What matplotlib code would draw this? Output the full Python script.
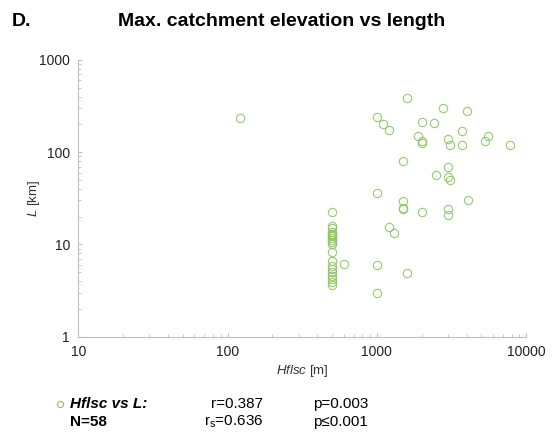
import numpy as np
import matplotlib
matplotlib.use("Agg")
import matplotlib.pyplot as plt
from matplotlib.ticker import LogLocator, FuncFormatter

plt.rcParams['font.family'] = ['Liberation Sans', 'DejaVu Sans']
plt.rcParams['mathtext.fontset'] = 'custom'
plt.rcParams['mathtext.rm'] = 'Liberation Sans'
plt.rcParams['mathtext.it'] = 'Liberation Sans:italic'

# Hflsc [m] vs L [km]
hflsc = [500] * 20 + [
    121, 600, 1000, 1000, 1200, 1300, 1600, 1500, 1500, 1500,
    2000, 1600, 1000, 1100, 1200, 2800, 4000, 2000, 2400, 3700,
    1900, 2000, 2000, 3000, 3100, 3700, 5600, 5300, 7800, 1500,
    3000, 2500, 3000, 3100, 1000, 4100, 3000, 3000]
length = [22.6, 16.0, 15.2, 13.8, 13.0, 12.6, 12.3, 11.8, 11.2, 10.6,
          10.0, 8.3, 6.7, 5.8, 5.4, 5.0, 4.6, 4.2, 3.9, 3.6] + [
    234, 6.1, 6.0, 2.95, 15.6, 13.2, 4.9, 29.5, 25, 24,
    22.6, 388, 238, 200, 174, 303, 281, 213, 208, 171,
    151, 132, 126, 139, 119, 119, 151, 131, 120, 80,
    69.5, 57, 54, 49.5, 36, 30.5, 24.4, 20.8]

green = '#8cc463'
grey = '#bfbfbf'

fig = plt.figure(figsize=(5.52, 4.34), dpi=100)
ax = fig.add_axes([0.1418, 0.2242, 0.8111, 0.6376])

ax.plot(hflsc, length, 'o', mfc='none', mec=green, ms=6, mew=0.8, alpha=0.9)

ax.set_xscale('log')
ax.set_yscale('log')
ax.set_xlim(10, 10000)
ax.set_ylim(1, 1000)

fmt = FuncFormatter(lambda v, p: '%g' % v)
for axis in (ax.xaxis, ax.yaxis):
    axis.set_major_locator(LogLocator(base=10))
    axis.set_minor_locator(LogLocator(base=10, subs=np.arange(2, 10)))
    axis.set_major_formatter(fmt)
    axis.set_minor_formatter(FuncFormatter(lambda v, p: ''))

ax.tick_params(which='both', direction='in', color=grey, labelsize=10, labelcolor='#222222')
ax.tick_params(which='major', length=3, width=0.8, pad=6)
ax.tick_params(which='minor', length=2, width=0.6)
ax.spines['top'].set_visible(False)
ax.spines['right'].set_visible(False)
ax.spines['left'].set_color(grey)
ax.spines['bottom'].set_color(grey)

ax.set_xlabel(r'$\it{Hflsc}$ [m]', fontsize=9.5, color='#333333', labelpad=3)
ax.set_ylabel(r'$\it{L}$ [km]', fontsize=9.5, color='#333333', labelpad=-2)

fig.text(12 / 552, 1 - 21 / 434, 'D.', fontsize=14, fontweight='bold', va='center')
fig.text(282 / 552, 1 - 21 / 434, 'Max. catchment elevation vs length',
         fontsize=14, fontweight='bold', ha='center', va='center')

# legend block
y1 = 1 - 404 / 434
y2 = 1 - 422 / 434
fig.lines.append(plt.Line2D([60 / 552], [y1], marker='o', mfc='none', mec=green,
                            ms=4.5, mew=0.8, transform=fig.transFigure))
fig.text(70 / 552, y1, 'Hflsc vs L:', fontsize=11, fontweight='bold', style='italic', va='center')
fig.text(70 / 552, y2, 'N=58', fontsize=11, fontweight='bold', va='center')
fig.text(263 / 552, y1, 'r=0.387', fontsize=11, ha='right', va='center')
fig.text(263 / 552, y2, r'r$_\mathregular{s}$=0.636', fontsize=11, ha='right', va='center')
fig.text(313 / 552, y1, 'p=0.003', fontsize=11, va='center')
fig.text(313 / 552, y2, 'p\u22640.001', fontsize=11, va='center')

fig.savefig('out.png', dpi=100)
